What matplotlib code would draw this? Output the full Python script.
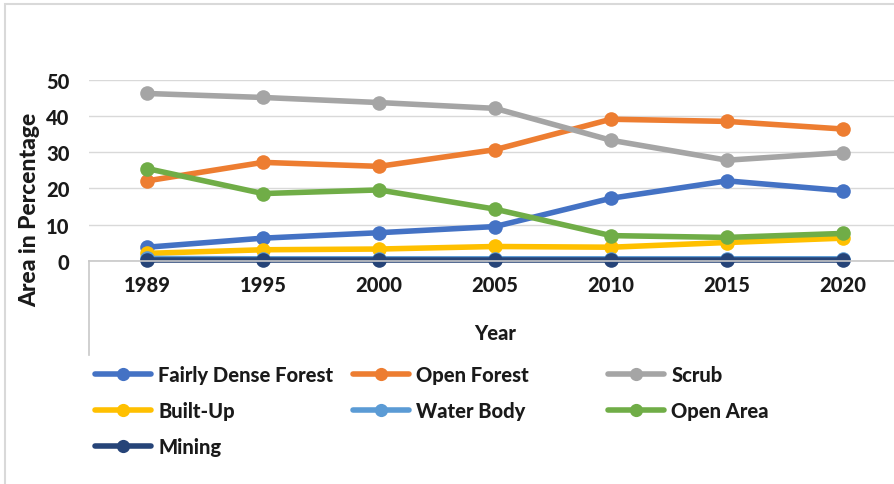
import matplotlib
matplotlib.use("Agg")
import matplotlib.pyplot as plt
from matplotlib.lines import Line2D
from matplotlib.patches import Rectangle

plt.rcParams['font.family'] = ['Lato', 'DejaVu Sans']

years = ["1989", "1995", "2000", "2005", "2010", "2015", "2020"]
fairly_dense_forest = [3.8, 6.3, 7.8, 9.5, 17.3, 22.1, 19.4]
open_forest = [22.1, 27.2, 26.1, 30.7, 39.1, 38.5, 36.4]
scrub = [46.2, 45.1, 43.7, 42.1, 33.3, 27.8, 29.9]
built_up = [2.1, 3.1, 3.3, 4.0, 3.8, 5.1, 6.3]
water_body = [0.7, 0.6, 0.6, 0.6, 0.6, 0.6, 0.6]
open_area = [25.5, 18.6, 19.6, 14.3, 7.0, 6.5, 7.6]
mining = [0.3, 0.3, 0.3, 0.3, 0.3, 0.3, 0.3]

series_names = ["Fairly Dense Forest", "Open Forest", "Scrub", "Built-Up",
                "Water Body", "Open Area", "Mining"]
series_values = [fairly_dense_forest, open_forest, scrub, built_up,
                 water_body, open_area, mining]
colors = ["#4472C4", "#ED7D31", "#A5A5A5", "#FFC000", "#5B9BD5", "#70AD47", "#264478"]
yticks = [0, 10, 20, 30, 40, 50]

W, H = 894, 485
fig = plt.figure(figsize=(W / 100, H / 100), dpi=100)
FW = 'black'
TC = '#1a1a1a'
FS = 14.5

def fx(px):
    return px / W

def fy(py):
    return 1 - py / H

ax = fig.add_axes([fx(89), fy(262), 812 / W, (262 - 80.7) / H])
x = list(range(len(years)))
handles = []
for name, vals, c in zip(series_names, series_values, colors):
    h, = ax.plot(x, vals, color=c, lw=4.0, marker='o', markersize=10.5,
                 markeredgewidth=0, label=name, solid_capstyle='round', clip_on=False)
    handles.append(h)

ax.set_xlim(-0.5, 6.5)
ax.set_ylim(0, 50)
ax.set_yticks(yticks)
ax.set_yticklabels([str(v) for v in yticks], fontsize=FS, fontweight=FW, color=TC)
ax.set_xticks(x)
ax.set_xticklabels(years, fontsize=FS, fontweight=FW, color=TC)
ax.tick_params(length=0, pad=10)
ax.tick_params(axis='y', pad=14)
for s in ['top', 'right', 'left']:
    ax.spines[s].set_visible(False)
ax.spines['bottom'].set_color('#C8C8C8')
ax.spines['bottom'].set_linewidth(1.2)
ax.grid(axis='y', color='#D9D9D9', lw=1.0)
ax.set_axisbelow(True)

fig.text(fx(495), fy(333), "Year", fontsize=FS, fontweight=FW, color=TC,
         ha='center', va='center')
fig.text(fx(30), fy(210), "Area in Percentage", fontsize=16.5, fontweight=FW, color=TC,
         ha='center', va='center', rotation=90)

# extended vertical axis line below the plot area
fig.add_artist(Line2D([fx(89), fx(89)], [fy(262), fy(356)], color='#C8C8C8', lw=1.2))
# chart border
fig.add_artist(Rectangle((fx(5), fy(500)), 1.2, fy(5) - fy(500), fill=False,
                         edgecolor='#D9D9D9', lw=1.5, clip_on=False))

cols = [[0, 3, 6], [1, 4], [2, 5]]
col_x = [95, 353, 608]
for cx, idxs in zip(col_x, cols):
    leg = fig.legend([handles[i] for i in idxs], [series_names[i] for i in idxs],
                     loc='upper left', bbox_to_anchor=(fx(cx), fy(366)),
                     frameon=False, prop={'weight': FW, 'size': FS},
                     handlelength=2.8, handletextpad=0.35, labelspacing=0.85,
                     borderaxespad=0, borderpad=0)
    for t in leg.get_texts():
        t.set_color(TC)
    for lh in leg.get_lines():
        lh.set_markersize(9.5)

fig.savefig("out.png", dpi=100)
